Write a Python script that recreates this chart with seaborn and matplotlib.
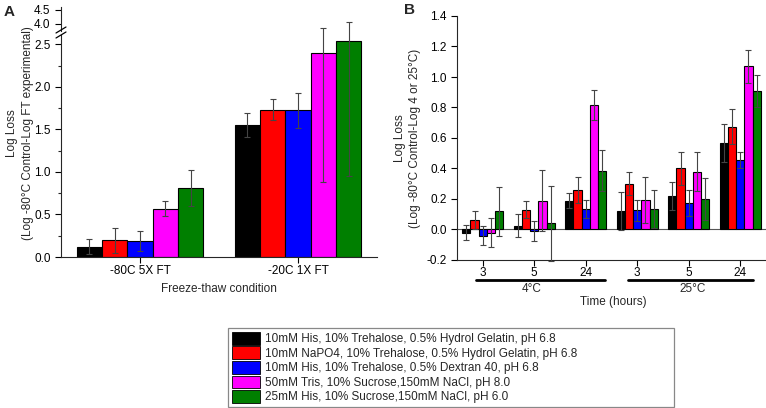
import numpy as np
import pandas as pd
import matplotlib
matplotlib.use("Agg")
import matplotlib.pyplot as plt
from matplotlib.patches import Patch
from matplotlib.lines import Line2D
import seaborn as sns

# ---- data ----
formulations = ["F1", "F2", "F3", "TNS", "HNS"]
legend_labels = [
    "10mM His, 10% Trehalose, 0.5% Hydrol Gelatin, pH 6.8",
    "10mM NaPO4, 10% Trehalose, 0.5% Hydrol Gelatin, pH 6.8",
    "10mM His, 10% Trehalose, 0.5% Dextran 40, pH 6.8",
    "50mM Tris, 10% Sucrose,150mM NaCl, pH 8.0",
    "25mM His, 10% Sucrose,150mM NaCl, pH 6.0",
]
legend_codes = ["(F1)", "(F2)", "(F3)", "(TNS)", "(HNS)"]
colors = ["#000000", "#ff0000", "#0000ff", "#ff00ff", "#007f00"]

# panel A: freeze-thaw
a_conditions = ["-80C 5X FT", "-20C 1X FT"]
a_loss_80 = [0.12, 0.20, 0.19, 0.57, 0.81]
a_lo_80 = [0.09, 0.15, 0.12, 0.09, 0.21]
a_hi_80 = [0.09, 0.14, 0.12, 0.09, 0.21]
a_loss_20 = [1.55, 1.73, 1.73, 2.40, 2.54]
a_lo_20 = [0.14, 0.12, 0.21, 1.52, 1.59]
a_hi_20 = [0.14, 0.13, 0.20, 0.29, 0.22]

# panel B: time / temperature
b_groups = ["4C-3", "4C-5", "4C-24", "25C-3", "25C-5", "25C-24"]
b_hours = ["3", "5", "24", "3", "5", "24"]
b_loss_4c_3 = [-0.02, 0.06, -0.04, -0.02, 0.12]
b_err_4c_3 = [0.05, 0.06, 0.06, 0.095, 0.16]
b_loss_4c_5 = [0.025, 0.13, -0.01, 0.19, 0.04]
b_err_4c_5 = [0.075, 0.055, 0.065, 0.20, 0.245]
b_loss_4c_24 = [0.19, 0.26, 0.135, 0.815, 0.385]
b_err_4c_24 = [0.05, 0.085, 0.06, 0.10, 0.135]
b_loss_25c_3 = [0.12, 0.30, 0.125, 0.195, 0.135]
b_err_25c_3 = [0.125, 0.075, 0.07, 0.15, 0.125]
b_loss_25c_5 = [0.22, 0.40, 0.175, 0.38, 0.20]
b_err_25c_5 = [0.09, 0.105, 0.085, 0.13, 0.135]
b_loss_25c_24 = [0.565, 0.675, 0.455, 1.07, 0.91]
b_err_25c_24 = [0.125, 0.115, 0.05, 0.11, 0.105]

# ---- long-form tables ----
df_a = pd.DataFrame({
    "condition": np.repeat(a_conditions, 5),
    "formulation": formulations * 2,
    "loss": a_loss_80 + a_loss_20,
    "lo": a_lo_80 + a_lo_20,
    "hi": a_hi_80 + a_hi_20,
})
b_loss = [b_loss_4c_3, b_loss_4c_5, b_loss_4c_24, b_loss_25c_3, b_loss_25c_5, b_loss_25c_24]
b_err = [b_err_4c_3, b_err_4c_5, b_err_4c_24, b_err_25c_3, b_err_25c_5, b_err_25c_24]
df_b = pd.DataFrame({
    "group": np.repeat(b_groups, 5),
    "formulation": formulations * 6,
    "loss": np.concatenate(b_loss),
    "err": np.concatenate(b_err),
})

sns.set_style("ticks")
plt.rcParams["font.family"] = ["Liberation Sans", "DejaVu Sans"]
plt.rcParams["font.size"] = 8.5
FS = 8.5

W, H = 766, 408
fig = plt.figure(figsize=(W / 100, H / 100), dpi=100)


def px_axes(x0, y0, x1, y1):
    return fig.add_axes([x0 / W, 1 - y1 / H, (x1 - x0) / W, (y1 - y0) / H])


palette = dict(zip(formulations, colors))


def draw_bars(ax, df, x, order):
    sns.barplot(data=df, x=x, y="loss", hue="formulation", order=order,
                hue_order=formulations, palette=palette, errorbar=None,
                width=0.8, edgecolor="black", linewidth=0.8, saturation=1,
                legend=False, ax=ax)


def add_err(ax, df, x, order, lo_col, hi_col):
    bars = list(ax.containers)[:len(formulations)]
    for i, cont in enumerate(bars):
        sub = df[df["formulation"] == formulations[i]].set_index(x).loc[order]
        xs = [p.get_x() + p.get_width() / 2 for p in cont.patches]
        ax.errorbar(xs, sub["loss"], yerr=[sub[lo_col], sub[hi_col]], fmt="none",
                    ecolor="#444444", elinewidth=0.8, capsize=2.5, capthick=0.8,
                    clip_on=False, zorder=3)


tick_kw = dict(direction="out", length=4, width=0.8, labelsize=FS, colors="black")

# ---- panel A ----
axA = px_axes(61, 35, 377, 257)
axA_top = px_axes(61, 7, 377, 31)
for ax in (axA, axA_top):
    draw_bars(ax, df_a, "condition", a_conditions)
add_err(axA, df_a, "condition", a_conditions, "lo", "hi")

axA.set_ylim(0, 2.61)
axA.set_xlim(-0.5, 1.5)
axA.set_yticks([0.0, 0.5, 1.0, 1.5, 2.0, 2.5])
axA.set_yticks(np.arange(0.25, 2.6, 0.5), minor=True)
axA.yaxis.set_major_formatter(matplotlib.ticker.FormatStrFormatter("%.1f"))
axA.tick_params(axis="both", which="major", **tick_kw)
axA.tick_params(axis="x", pad=2)
axA.tick_params(axis="y", which="minor", direction="out", length=2.5, width=0.8)
axA.set_xlabel("Freeze-thaw condition", fontsize=FS, labelpad=4)
axA.set_ylabel("")
sns.despine(ax=axA)

axA_top.set_ylim(3.75, 4.607)
axA_top.set_xlim(-0.5, 1.5)
axA_top.set_yticks([4.0, 4.5])
axA_top.yaxis.set_major_formatter(matplotlib.ticker.FormatStrFormatter("%.1f"))
axA_top.tick_params(axis="y", **tick_kw)
axA_top.set_xticks([])
axA_top.set_xlabel("")
axA_top.set_ylabel("")
sns.despine(ax=axA_top, bottom=True)
axA_top.patch.set_visible(False)

# break marks on the y spine
for yb in (30, 35):
    fig.add_artist(Line2D([(61 - 5) / W, (61 + 5) / W],
                          [1 - (yb + 3) / H, 1 - (yb - 3) / H],
                          transform=fig.transFigure, color="black", lw=0.9))

fig.text(12 / W, 1 - 133 / H, "Log Loss", rotation=90, ha="center", va="center", fontsize=FS)
fig.text(28 / W, 1 - 133 / H, "(Log -80\u00b0C Control-Log FT experimental)",
         rotation=90, ha="center", va="center", fontsize=FS)
fig.text(4 / W, 1 - 12 / H, "A", fontsize=11, fontweight="bold", va="center")

# ---- panel B ----
axB = px_axes(457, 16, 766, 260)
draw_bars(axB, df_b, "group", b_groups)
add_err(axB, df_b, "group", b_groups, "err", "err")
axB.axhline(0, color="#555555", lw=0.8, zorder=0.5)
axB.set_ylim(-0.2, 1.4)
axB.set_xlim(-0.5, 5.5)
axB.set_yticks(np.arange(-0.2, 1.41, 0.2))
axB.yaxis.set_major_formatter(matplotlib.ticker.FormatStrFormatter("%.1f"))
axB.set_xticks(range(6))
axB.set_xticklabels(b_hours)
axB.tick_params(axis="both", **tick_kw)
axB.tick_params(axis="x", pad=1)
axB.set_xlabel("")
axB.set_ylabel("")
sns.despine(ax=axB)

tr = matplotlib.transforms.blended_transform_factory(axB.transData, axB.transAxes)
for x0, x1 in ((-0.14, 2.37), (2.82, 5.25)):
    axB.plot([x0, x1], [-0.080, -0.080], color="black", lw=2, transform=tr, clip_on=False)
axB.text(0.95, -0.119, "4\u00b0C", transform=tr, ha="center", va="center", fontsize=FS)
axB.text(4.07, -0.119, "25\u00b0C", transform=tr, ha="center", va="center", fontsize=FS)
axB.text(2.53, -0.172, "Time (hours)", transform=tr, ha="center", va="center", fontsize=FS)

fig.text(400 / W, 1 - 138 / H, "Log Loss", rotation=90, ha="center", va="center", fontsize=FS)
fig.text(415 / W, 1 - 138 / H, "(Log -80\u00b0C Control-Log 4 or 25\u00b0C)",
         rotation=90, ha="center", va="center", fontsize=FS)
fig.text(404 / W, 1 - 10 / H, "B", fontsize=11, fontweight="bold", va="center")

# ---- legend ----
handles = [Patch(facecolor=c, edgecolor="black", linewidth=0.6) for c in colors]
leg = fig.legend(handles, legend_labels, loc="lower left",
                 bbox_to_anchor=(228 / W, 1 - 407 / H, (674 - 228) / W, 88 / H),
                 mode="expand", ncol=1, frameon=True, fancybox=False,
                 edgecolor="#888888", framealpha=1, fontsize=FS,
                 handlelength=2.4, handleheight=1.3, labelspacing=0.1,
                 handletextpad=0.4, borderpad=0.3, borderaxespad=0)
leg.get_frame().set_linewidth(0.9)

fig.canvas.draw()
for t, code in zip(leg.get_texts(), legend_codes):
    bb = t.get_window_extent()
    fig.text(605, (bb.y0 + bb.y1) / 2, code, transform=None, va="center", fontsize=FS)

fig.savefig("out.png", dpi=100)
